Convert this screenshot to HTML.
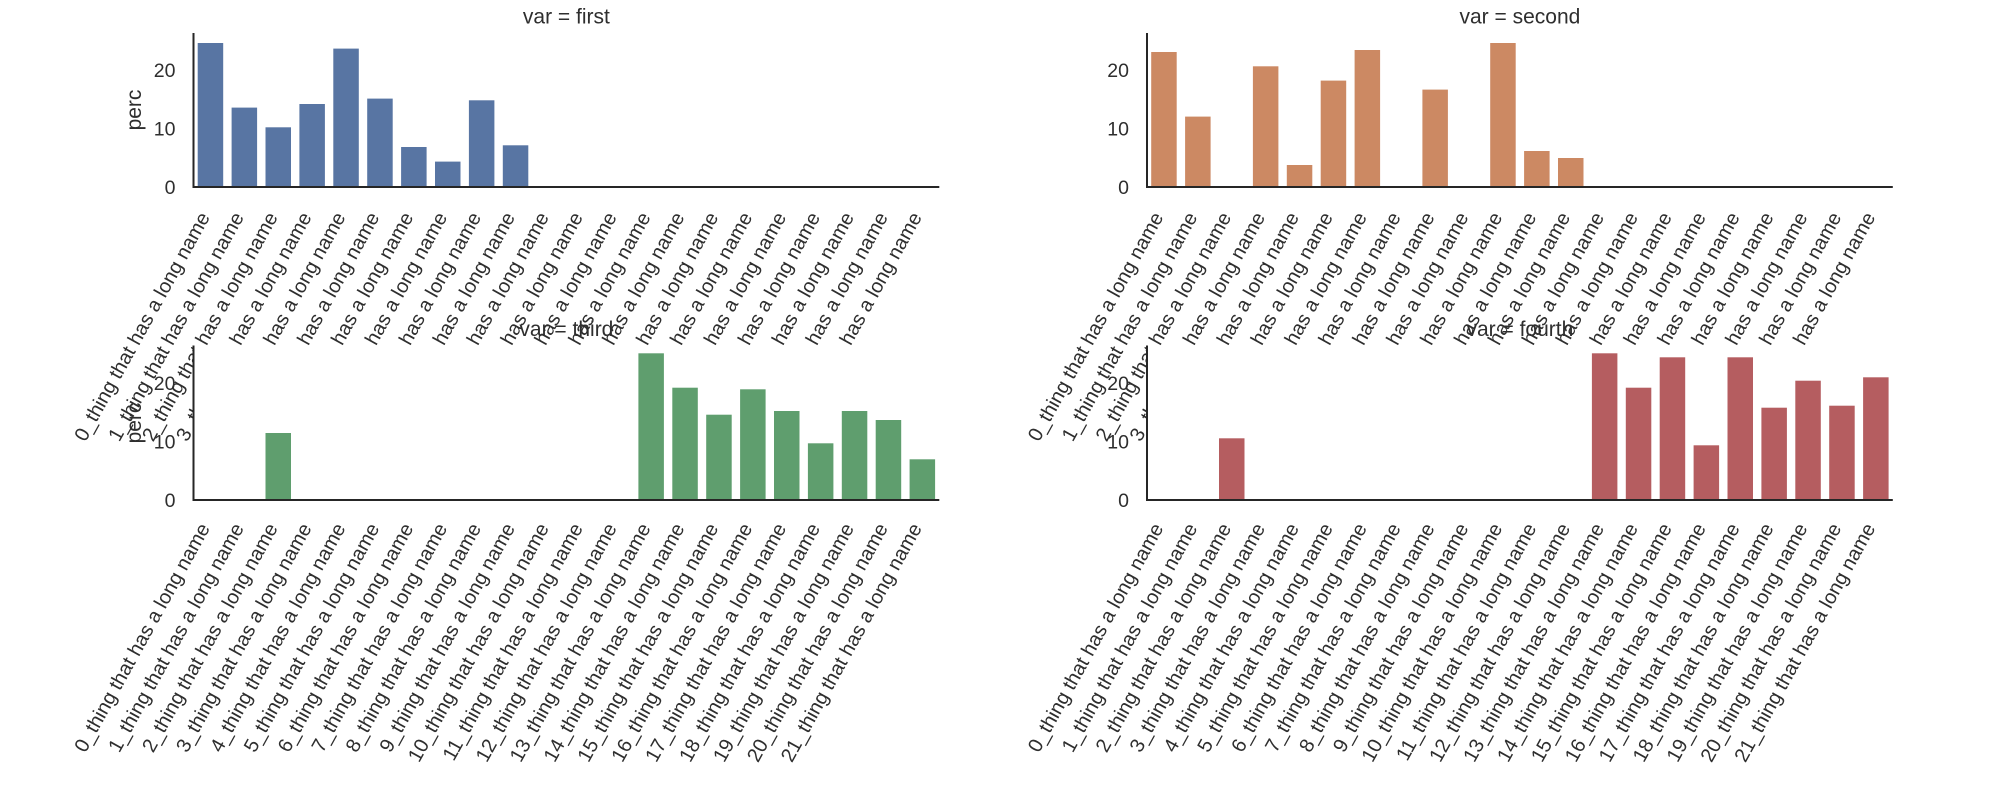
<!DOCTYPE html>
<html>
<head>
<meta charset="utf-8">
<style>
html,body{margin:0;padding:0;background:#fff;}
svg{display:block;}
text{font-family:"Liberation Sans",Arial,sans-serif;fill:#2e2e2e;}
.ti{font-size:21px;}
.xl text{font-size:20px;text-anchor:end;}
.yt text{font-size:19.5px;text-anchor:end;}
.sp{stroke:#262626;stroke-width:2;fill:none;}
</style>
</head>
<body>
<svg width="2012" height="794" viewBox="0 0 2012 794" xmlns="http://www.w3.org/2000/svg">
<rect x="0" y="0" width="2012" height="794" fill="#fff"/>

<!-- ========== TOP LEFT ========== -->
<g transform="translate(193.5,187)">
  <g fill="#5875a3">
    <rect x="4.2" y="-144" width="25.5" height="144"/>
    <rect x="38.1" y="-79.4" width="25.5" height="79.4"/>
    <rect x="72" y="-59.7" width="25.5" height="59.7"/>
    <rect x="105.9" y="-83" width="25.5" height="83"/>
    <rect x="139.8" y="-138.4" width="25.5" height="138.4"/>
    <rect x="173.7" y="-88.4" width="25.5" height="88.4"/>
    <rect x="207.6" y="-40" width="25.5" height="40"/>
    <rect x="241.5" y="-25.4" width="25.5" height="25.4"/>
    <rect x="275.4" y="-86.7" width="25.5" height="86.7"/>
    <rect x="309.3" y="-41.7" width="25.5" height="41.7"/>
  </g>
  <path class="sp" d="M0,-154 L0,0 L745.8,0"/>
  <g class="yt"><text x="-18" y="7">0</text><text x="-18" y="-51.4">10</text><text x="-18" y="-109.8">20</text></g>
  <text class="ti" x="-52.5" y="-77" text-anchor="middle" transform="rotate(-90 -52.5 -77)">perc</text>
  <text class="ti" x="372.9" y="-163.5" text-anchor="middle">var = first</text>
  <g class="xl">
    <text transform="translate(16.95,30) rotate(-61)">0_thing that has a long name</text>
    <text transform="translate(50.85,30) rotate(-61)">1_thing that has a long name</text>
    <text transform="translate(84.75,30) rotate(-61)">2_thing that has a long name</text>
    <text transform="translate(118.65,30) rotate(-61)">3_thing that has a long name</text>
    <text transform="translate(152.55,30) rotate(-61)">4_thing that has a long name</text>
    <text transform="translate(186.45,30) rotate(-61)">5_thing that has a long name</text>
    <text transform="translate(220.35,30) rotate(-61)">6_thing that has a long name</text>
    <text transform="translate(254.25,30) rotate(-61)">7_thing that has a long name</text>
    <text transform="translate(288.15,30) rotate(-61)">8_thing that has a long name</text>
    <text transform="translate(322.05,30) rotate(-61)">9_thing that has a long name</text>
    <text transform="translate(355.95,30) rotate(-61)">10_thing that has a long name</text>
    <text transform="translate(389.85,30) rotate(-61)">11_thing that has a long name</text>
    <text transform="translate(423.75,30) rotate(-61)">12_thing that has a long name</text>
    <text transform="translate(457.65,30) rotate(-61)">13_thing that has a long name</text>
    <text transform="translate(491.55,30) rotate(-61)">14_thing that has a long name</text>
    <text transform="translate(525.45,30) rotate(-61)">15_thing that has a long name</text>
    <text transform="translate(559.35,30) rotate(-61)">16_thing that has a long name</text>
    <text transform="translate(593.25,30) rotate(-61)">17_thing that has a long name</text>
    <text transform="translate(627.15,30) rotate(-61)">18_thing that has a long name</text>
    <text transform="translate(661.05,30) rotate(-61)">19_thing that has a long name</text>
    <text transform="translate(694.95,30) rotate(-61)">20_thing that has a long name</text>
    <text transform="translate(728.85,30) rotate(-61)">21_thing that has a long name</text>
  </g>
</g>

<!-- ========== TOP RIGHT ========== -->
<g transform="translate(1147,187)">
  <g fill="#cc8963">
    <rect x="4.2" y="-135" width="25.5" height="135"/>
    <rect x="38.1" y="-70.4" width="25.5" height="70.4"/>
    <rect x="105.9" y="-120.7" width="25.5" height="120.7"/>
    <rect x="139.8" y="-22" width="25.5" height="22"/>
    <rect x="173.7" y="-106.4" width="25.5" height="106.4"/>
    <rect x="207.6" y="-137" width="25.5" height="137"/>
    <rect x="275.4" y="-97.4" width="25.5" height="97.4"/>
    <rect x="343.2" y="-144" width="25.5" height="144"/>
    <rect x="377.1" y="-36" width="25.5" height="36"/>
    <rect x="411" y="-29" width="25.5" height="29"/>
  </g>
  <path class="sp" d="M0,-154 L0,0 L745.8,0"/>
  <g class="yt"><text x="-18" y="7">0</text><text x="-18" y="-51.4">10</text><text x="-18" y="-109.8">20</text></g>
  <text class="ti" x="372.9" y="-163.5" text-anchor="middle">var = second</text>
  <g class="xl">
    <text transform="translate(16.95,30) rotate(-61)">0_thing that has a long name</text>
    <text transform="translate(50.85,30) rotate(-61)">1_thing that has a long name</text>
    <text transform="translate(84.75,30) rotate(-61)">2_thing that has a long name</text>
    <text transform="translate(118.65,30) rotate(-61)">3_thing that has a long name</text>
    <text transform="translate(152.55,30) rotate(-61)">4_thing that has a long name</text>
    <text transform="translate(186.45,30) rotate(-61)">5_thing that has a long name</text>
    <text transform="translate(220.35,30) rotate(-61)">6_thing that has a long name</text>
    <text transform="translate(254.25,30) rotate(-61)">7_thing that has a long name</text>
    <text transform="translate(288.15,30) rotate(-61)">8_thing that has a long name</text>
    <text transform="translate(322.05,30) rotate(-61)">9_thing that has a long name</text>
    <text transform="translate(355.95,30) rotate(-61)">10_thing that has a long name</text>
    <text transform="translate(389.85,30) rotate(-61)">11_thing that has a long name</text>
    <text transform="translate(423.75,30) rotate(-61)">12_thing that has a long name</text>
    <text transform="translate(457.65,30) rotate(-61)">13_thing that has a long name</text>
    <text transform="translate(491.55,30) rotate(-61)">14_thing that has a long name</text>
    <text transform="translate(525.45,30) rotate(-61)">15_thing that has a long name</text>
    <text transform="translate(559.35,30) rotate(-61)">16_thing that has a long name</text>
    <text transform="translate(593.25,30) rotate(-61)">17_thing that has a long name</text>
    <text transform="translate(627.15,30) rotate(-61)">18_thing that has a long name</text>
    <text transform="translate(661.05,30) rotate(-61)">19_thing that has a long name</text>
    <text transform="translate(694.95,30) rotate(-61)">20_thing that has a long name</text>
    <text transform="translate(728.85,30) rotate(-61)">21_thing that has a long name</text>
  </g>
</g>

<!-- ========== BOTTOM LEFT ========== -->
<g transform="translate(193.5,500)">
  <rect x="0" y="-154.5" width="745.8" height="154.5" fill="#fff"/>
  <g fill="#5f9e6e">
    <rect x="72" y="-67" width="25.5" height="67"/>
    <rect x="444.9" y="-146.7" width="25.5" height="146.7"/>
    <rect x="478.8" y="-112.3" width="25.5" height="112.3"/>
    <rect x="512.7" y="-85.3" width="25.5" height="85.3"/>
    <rect x="546.6" y="-110.7" width="25.5" height="110.7"/>
    <rect x="580.5" y="-89" width="25.5" height="89"/>
    <rect x="614.4" y="-56.7" width="25.5" height="56.7"/>
    <rect x="648.3" y="-89" width="25.5" height="89"/>
    <rect x="682.2" y="-80" width="25.5" height="80"/>
    <rect x="716.1" y="-40.7" width="25.5" height="40.7"/>
  </g>
  <path class="sp" d="M0,-154.5 L0,0 L745.8,0"/>
  <g class="yt"><text x="-18" y="7">0</text><text x="-18" y="-51.4">10</text><text x="-18" y="-109.8">20</text></g>
  <text class="ti" x="-52.5" y="-77" text-anchor="middle" transform="rotate(-90 -52.5 -77)">perc</text>
  <text class="ti" x="372.9" y="-164" text-anchor="middle">var = third</text>
  <g class="xl">
    <text transform="translate(16.95,28) rotate(-61)">0_thing that has a long name</text>
    <text transform="translate(50.85,28) rotate(-61)">1_thing that has a long name</text>
    <text transform="translate(84.75,28) rotate(-61)">2_thing that has a long name</text>
    <text transform="translate(118.65,28) rotate(-61)">3_thing that has a long name</text>
    <text transform="translate(152.55,28) rotate(-61)">4_thing that has a long name</text>
    <text transform="translate(186.45,28) rotate(-61)">5_thing that has a long name</text>
    <text transform="translate(220.35,28) rotate(-61)">6_thing that has a long name</text>
    <text transform="translate(254.25,28) rotate(-61)">7_thing that has a long name</text>
    <text transform="translate(288.15,28) rotate(-61)">8_thing that has a long name</text>
    <text transform="translate(322.05,28) rotate(-61)">9_thing that has a long name</text>
    <text transform="translate(355.95,28) rotate(-61)">10_thing that has a long name</text>
    <text transform="translate(389.85,28) rotate(-61)">11_thing that has a long name</text>
    <text transform="translate(423.75,28) rotate(-61)">12_thing that has a long name</text>
    <text transform="translate(457.65,28) rotate(-61)">13_thing that has a long name</text>
    <text transform="translate(491.55,28) rotate(-61)">14_thing that has a long name</text>
    <text transform="translate(525.45,28) rotate(-61)">15_thing that has a long name</text>
    <text transform="translate(559.35,28) rotate(-61)">16_thing that has a long name</text>
    <text transform="translate(593.25,28) rotate(-61)">17_thing that has a long name</text>
    <text transform="translate(627.15,28) rotate(-61)">18_thing that has a long name</text>
    <text transform="translate(661.05,28) rotate(-61)">19_thing that has a long name</text>
    <text transform="translate(694.95,28) rotate(-61)">20_thing that has a long name</text>
    <text transform="translate(728.85,28) rotate(-61)">21_thing that has a long name</text>
  </g>
</g>

<!-- ========== BOTTOM RIGHT ========== -->
<g transform="translate(1147,500)">
  <rect x="0" y="-154.5" width="745.8" height="154.5" fill="#fff"/>
  <g fill="#b55d60">
    <rect x="72" y="-61.7" width="25.5" height="61.7"/>
    <rect x="444.9" y="-146.7" width="25.5" height="146.7"/>
    <rect x="478.8" y="-112.3" width="25.5" height="112.3"/>
    <rect x="512.7" y="-142.7" width="25.5" height="142.7"/>
    <rect x="546.6" y="-54.7" width="25.5" height="54.7"/>
    <rect x="580.5" y="-142.7" width="25.5" height="142.7"/>
    <rect x="614.4" y="-92.3" width="25.5" height="92.3"/>
    <rect x="648.3" y="-119.3" width="25.5" height="119.3"/>
    <rect x="682.2" y="-94.3" width="25.5" height="94.3"/>
    <rect x="716.1" y="-122.7" width="25.5" height="122.7"/>
  </g>
  <path class="sp" d="M0,-154.5 L0,0 L745.8,0"/>
  <g class="yt"><text x="-18" y="7">0</text><text x="-18" y="-51.4">10</text><text x="-18" y="-109.8">20</text></g>
  <text class="ti" x="372.9" y="-164" text-anchor="middle">var = fourth</text>
  <g class="xl">
    <text transform="translate(16.95,28) rotate(-61)">0_thing that has a long name</text>
    <text transform="translate(50.85,28) rotate(-61)">1_thing that has a long name</text>
    <text transform="translate(84.75,28) rotate(-61)">2_thing that has a long name</text>
    <text transform="translate(118.65,28) rotate(-61)">3_thing that has a long name</text>
    <text transform="translate(152.55,28) rotate(-61)">4_thing that has a long name</text>
    <text transform="translate(186.45,28) rotate(-61)">5_thing that has a long name</text>
    <text transform="translate(220.35,28) rotate(-61)">6_thing that has a long name</text>
    <text transform="translate(254.25,28) rotate(-61)">7_thing that has a long name</text>
    <text transform="translate(288.15,28) rotate(-61)">8_thing that has a long name</text>
    <text transform="translate(322.05,28) rotate(-61)">9_thing that has a long name</text>
    <text transform="translate(355.95,28) rotate(-61)">10_thing that has a long name</text>
    <text transform="translate(389.85,28) rotate(-61)">11_thing that has a long name</text>
    <text transform="translate(423.75,28) rotate(-61)">12_thing that has a long name</text>
    <text transform="translate(457.65,28) rotate(-61)">13_thing that has a long name</text>
    <text transform="translate(491.55,28) rotate(-61)">14_thing that has a long name</text>
    <text transform="translate(525.45,28) rotate(-61)">15_thing that has a long name</text>
    <text transform="translate(559.35,28) rotate(-61)">16_thing that has a long name</text>
    <text transform="translate(593.25,28) rotate(-61)">17_thing that has a long name</text>
    <text transform="translate(627.15,28) rotate(-61)">18_thing that has a long name</text>
    <text transform="translate(661.05,28) rotate(-61)">19_thing that has a long name</text>
    <text transform="translate(694.95,28) rotate(-61)">20_thing that has a long name</text>
    <text transform="translate(728.85,28) rotate(-61)">21_thing that has a long name</text>
  </g>
</g>
</svg>
</body>
</html>
